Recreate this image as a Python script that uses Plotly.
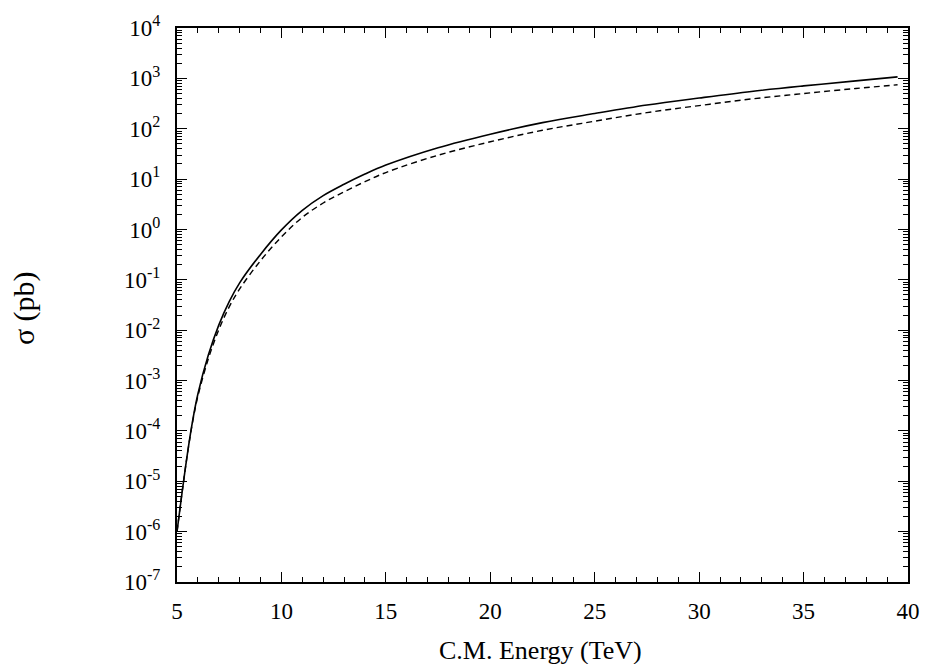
import plotly.graph_objects as go

# C.M. energy (TeV)
energy = [5, 5.25, 5.5, 5.75, 6, 6.5, 7, 7.5, 8, 9, 10, 11, 12, 13, 14, 15,
          17.5, 20, 22.5, 25, 27.5, 30, 32.5, 35, 37.5, 39.5]
# sigma (pb), solid curve
sigma_solid = [1.0e-6, 6.3e-6, 3.55e-5, 1.6e-4, 5.4e-4, 3.2e-3, 1.26e-2, 3.7e-2,
               8.7e-2, 0.32, 0.98, 2.4, 4.7, 7.9, 12.6, 19.0,
               42.0, 78.0, 132.0, 200.0, 295.0, 407.0, 550.0, 708.0, 891.0, 1070.0]
# sigma (pb), dashed curve
sigma_dashed = [1.0e-6, 6.3e-6, 3.5e-5, 1.53e-4, 4.9e-4, 2.7e-3, 1.02e-2, 2.9e-2,
                6.6e-2, 0.24, 0.71, 1.74, 3.35, 5.6, 8.9, 13.5,
                29.8, 55.0, 93.0, 141.0, 209.0, 288.0, 390.0, 500.0, 630.0, 745.0]

x_ticks = [5, 10, 15, 20, 25, 30, 35, 40]
y_exps = [-7, -6, -5, -4, -3, -2, -1, 0, 1, 2, 3, 4]
y_tickvals = [10.0 ** e for e in y_exps]
y_ticktext = ["10<sup>%d</sup>" % e for e in y_exps]

FONT = "Liberation Serif, Times New Roman, serif"
W, H = 932, 664
ML, MR, MT, MB = 177, 14, 20, 82

fig = go.Figure()
fig.add_trace(go.Scatter(x=energy, y=sigma_solid, mode="lines",
                         line=dict(color="black", width=1.6, shape="spline"),
                         showlegend=False))
fig.add_trace(go.Scatter(x=energy, y=sigma_dashed, mode="lines",
                         line=dict(color="black", width=1.4, dash="6px,4px", shape="spline"),
                         showlegend=False))

plot_w = W - ML - MR
plot_h = H - MT - MB

fig.update_layout(
    width=W, height=H,
    margin=dict(l=ML, r=MR, t=MT, b=MB),
    paper_bgcolor="white", plot_bgcolor="white",
    font=dict(family=FONT, size=23, color="black"),
    xaxis=dict(range=[5, 40], tickvals=x_ticks, ticks="inside", ticklen=10,
               tickwidth=1.2, tickcolor="black",
               showline=True, linecolor="black", linewidth=2, mirror="allticks",
               showgrid=False, zeroline=False, ticklabelstandoff=7,
               minor=dict(dtick=1, ticks="inside", ticklen=5, tickwidth=1.2,
                          tickcolor="black", showgrid=False)),
    yaxis=dict(type="log", range=[-7, 4], tickvals=y_tickvals, ticktext=y_ticktext,
               ticks="inside", ticklen=10, tickwidth=1.2, tickcolor="black",
               showline=True, linecolor="black", linewidth=2, mirror="allticks",
               showgrid=False, zeroline=False, ticklabelstandoff=10,
               minor=dict(dtick="D1", ticks="inside", ticklen=5, tickwidth=1.2,
                          tickcolor="black", showgrid=False)),
    annotations=[
        dict(text="C.M. Energy (TeV)", x=(545 - ML) / plot_w, xref="paper",
             y=(H - MB - 651) / plot_h, yref="paper", xanchor="center", yanchor="middle",
             showarrow=False, font=dict(size=26)),
        dict(text="σ (pb)", x=(22 - ML) / plot_w, xref="paper",
             y=(H - MB - 304) / plot_h, yref="paper", xanchor="center", yanchor="middle",
             showarrow=False, textangle=-90, font=dict(size=30)),
    ],
)

fig.write_html("out.html",
               config={"displayModeBar": False},
               post_script="document.body.style.margin='0';document.body.style.padding='0';"
                           "document.body.style.overflow='hidden';")
